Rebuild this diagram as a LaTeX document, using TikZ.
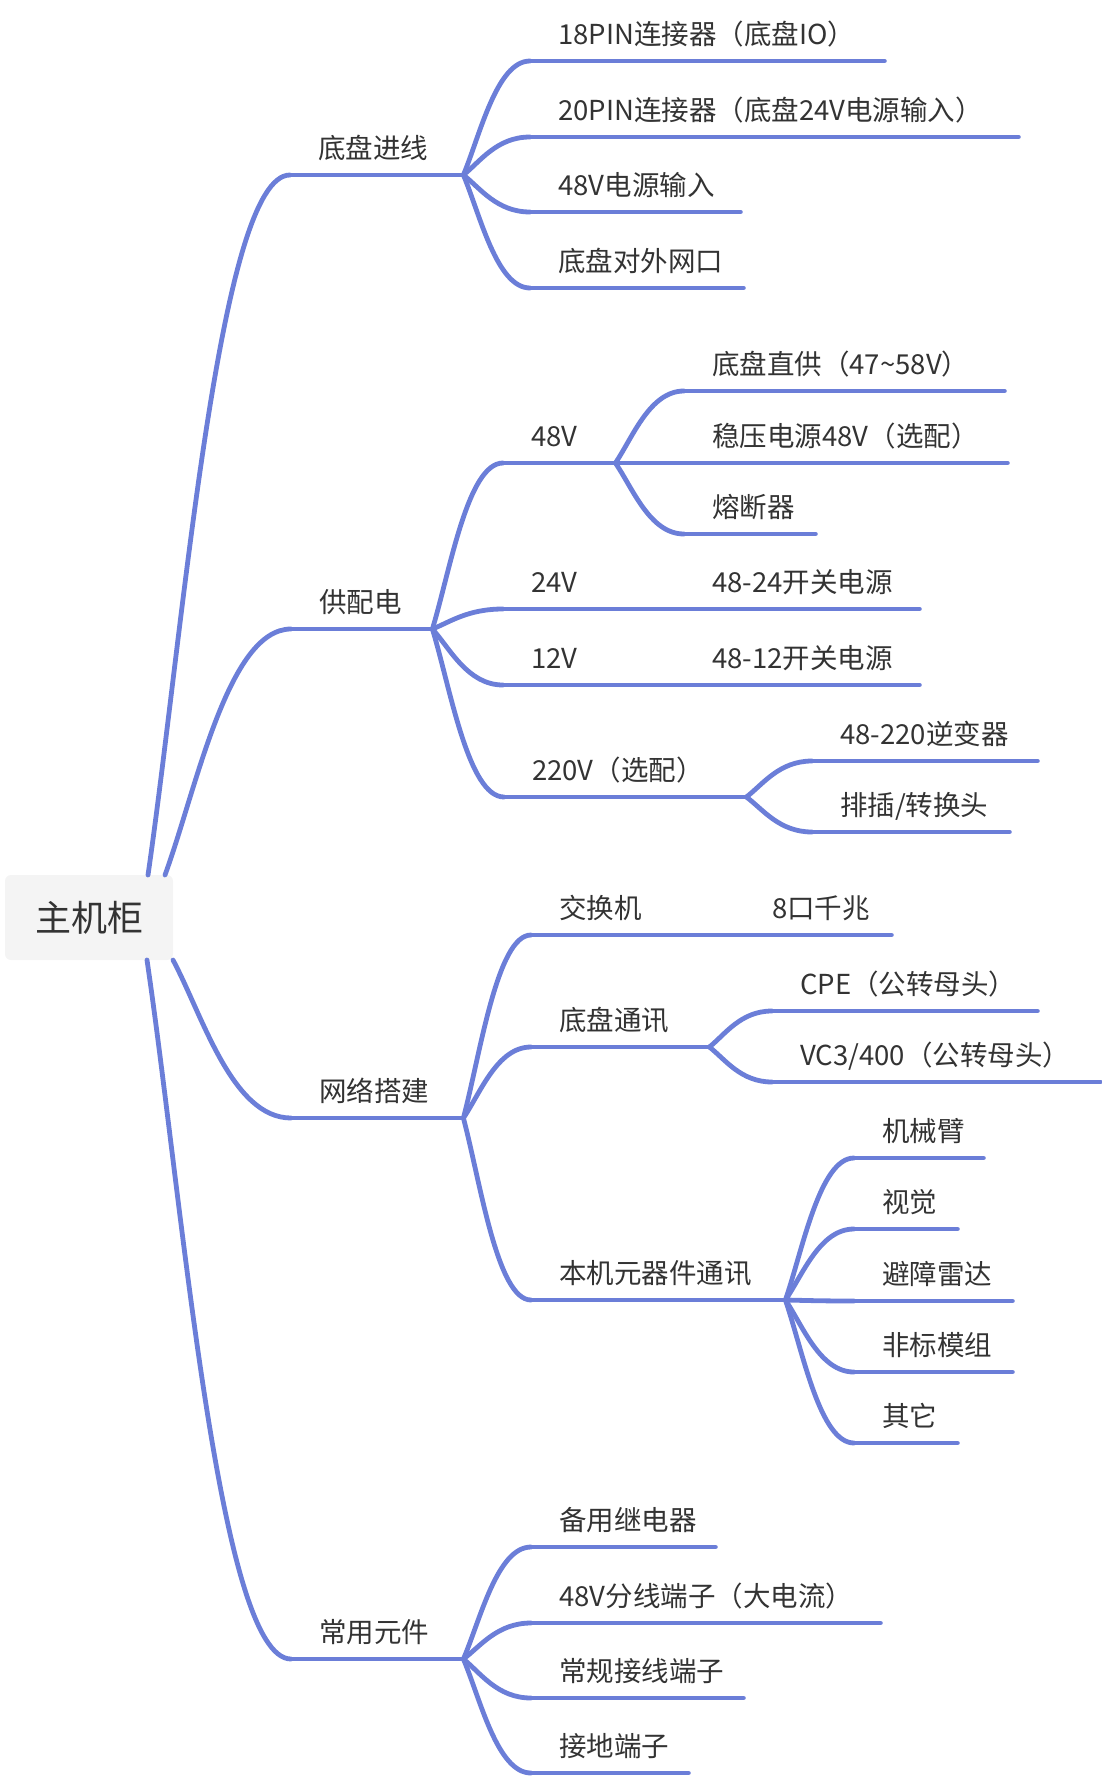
\documentclass[tikz,border=0pt]{standalone}
\usepackage{fontspec}
\setmainfont{Noto Sans CJK SC}
\usetikzlibrary{calc}
\definecolor{branchblue}{HTML}{6B7ED8}
\definecolor{rootgray}{HTML}{F4F4F4}
\definecolor{inkgray}{HTML}{333333}
\hyphenpenalty=10000
\exhyphenpenalty=10000
\begin{document}
\begin{tikzpicture}[x=1pt,y=-1pt]
        \tikzstyle{branch} = [draw=branchblue, line width=4.8pt, line cap=round, line join=round]
        \tikzstyle{link} = [branch, to path={let \p1=(\tikztostart), \p2=(\tikztotarget) in
            .. controls ({\x1+0.25*(\x2-\x1)},{\y1+0.35*(\y2-\y1)}) and ({\x1+0.5*(\x2-\x1)},\y2) .. (\tikztotarget)}]
        \tikzstyle{topic} = [anchor=south west, inner xsep=28pt, inner ysep=0pt, text height=22pt, text depth=16.5pt, align=left, text=inkgray, font=\fontsize{27.5}{33}\selectfont]
        \tikzstyle{centre} = [rectangle, rounded corners=6pt, minimum width=168pt, minimum height=85pt, fill=rootgray, text=inkgray, font=\fontsize{36}{43}\selectfont]
        \useasboundingbox (0,0) rectangle (1102,1780);

        \node (root) [centre] at (89,917.5) {主机柜};
        \coordinate (up1) at (148,875);
        \coordinate (up2) at (165,875);
        \coordinate (down1) at (173,960);
        \coordinate (down2) at (147,960);

        % level one
        \node (dpjx) [topic, text width=117pt] at (290,175) {底盘进线};
        \node (gpd) [topic, text width=85pt] at (291,629) {供配电};
        \node (wljj) [topic, text width=116pt] at (291,1118) {网络搭建};
        \node (cyyj) [topic, text width=116pt] at (291,1659) {常用元件};

        % 底盘进线
        \node (pin18) [topic, text width=298pt] at (530,61) {18PIN连接器（底盘IO）};
        \node (pin20) [topic, text width=432pt] at (530,137) {20PIN连接器（底盘24V电源输入）};
        \node (dyin) [topic, text width=154pt] at (530,212) {48V电源输入};
        \node (wk) [topic, text width=157pt] at (530,288) {底盘对外网口};

        % 供配电
        \node (v48) [topic, text width=56pt] at (503,463) {48V};
        \node (zg) [topic, text width=264pt] at (684,391) {底盘直供（47\char"7E 58V）};
        \node (wy) [topic, text width=267pt] at (684,463) {稳压电源48V（选配）};
        \node (rdq) [topic, text width=75pt] at (684,534) {熔断器};
        \node (v24) [topic, text width=56pt] at (503,609) {24V};
        \node (kg24) [topic, text width=179pt] at (684,609) {48-24开关电源};
        \node (v12) [topic, text width=56pt] at (503,685) {12V};
        \node (kg12) [topic, text width=179pt] at (684,685) {48-12开关电源};
        \node (v220) [topic, text width=186pt] at (504,797) {220V（选配）};
        \node (nbq) [topic, text width=169pt] at (812,761) {48-220逆变器};
        \node (pc) [topic, text width=141pt] at (812,832) {排插/转换头};

        % 网络搭建
        \node (jhj) [topic, text width=122pt] at (531,935) {交换机};
        \node (qz) [topic, text width=91pt] at (744,935) {8口千兆};
        \node (dptx) [topic, text width=122pt] at (531,1047) {底盘通讯};
        \node (cpe) [topic, text width=209pt] at (772,1011) {CPE（公转母头）};
        \node (vc) [topic, text width=272pt] at (772,1082) {VC3/400（公转母头）};
        \node (bj) [topic, text width=198pt] at (531,1300) {本机元器件通讯};
        \node (jxb) [topic, text width=73pt] at (854,1158) {机械臂};
        \node (sj) [topic, text width=47pt] at (854,1229) {视觉};
        \node (bz) [topic, text width=102pt] at (854,1301) {避障雷达};
        \node (fb) [topic, text width=102pt] at (854,1372) {非标模组};
        \node (qt) [topic, text width=47pt] at (854,1443) {其它};

        % 常用元件
        \node (jdq) [topic, text width=128pt] at (531,1547) {备用继电器};
        \node (fx) [topic, text width=293pt] at (531,1623) {48V分线端子（大电流）};
        \node (cg) [topic, text width=156pt] at (531,1698) {常规接线端子};
        \node (jd) [topic, text width=101pt] at (531,1773) {接地端子};

        \foreach \n in {dpjx,gpd,wljj,cyyj,pin18,pin20,dyin,wk,v48,zg,wy,rdq,v24,kg24,v12,kg12,v220,nbq,pc,jhj,qz,dptx,cpe,vc,bj,jxb,sj,bz,fb,qt,jdq,fx,cg,jd}
            \draw [branch] (\n.south west) -- (\n.south east);

        \draw [link] (up1) to (dpjx.south west);
        \draw [link] (up2) to (gpd.south west);
        \draw [link] (down1) to (wljj.south west);
        \draw [link] (down2) to (cyyj.south west);

        \foreach \c in {pin18,pin20,dyin,wk}
            \draw [link] (dpjx.south east) to (\c.south west);
        \foreach \c in {v48,v24,v12,v220}
            \draw [link] (gpd.south east) to (\c.south west);
        \foreach \c in {zg,wy,rdq}
            \draw [link] (v48.south east) to (\c.south west);
        \draw [link] (v24.south east) to (kg24.south west);
        \draw [link] (v12.south east) to (kg12.south west);
        \foreach \c in {nbq,pc}
            \draw [link] (v220.south east) to (\c.south west);

        \foreach \c in {jhj,dptx,bj}
            \draw [link] (wljj.south east) to (\c.south west);
        \draw [link] (jhj.south east) to (qz.south west);
        \foreach \c in {cpe,vc}
            \draw [link] (dptx.south east) to (\c.south west);
        \foreach \c in {jxb,sj,bz,fb,qt}
            \draw [link] (bj.south east) to (\c.south west);

        \foreach \c in {jdq,fx,cg,jd}
            \draw [link] (cyyj.south east) to (\c.south west);

    \end{tikzpicture}
\end{document}
